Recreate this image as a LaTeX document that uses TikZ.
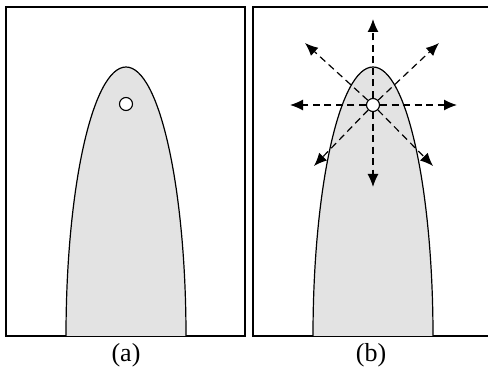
\documentclass[tikz,border=0pt]{standalone}
\usepackage{fontspec}
\setmainfont{Liberation Serif}
\usetikzlibrary{arrows.meta}

\begin{document}
\begin{tikzpicture}[
      x=1pt, y=1pt,
      panel/.style={draw, line width=1.3pt},
      body/.style={draw, line width=1.2pt, fill=black!11},
      hole/.style={circle, draw, line width=1.1pt, fill=white, minimum size=13pt, inner sep=0pt},
      caption/.style={font=\fontsize{26}{28}\selectfont},
      ray/.style={-{Latex[length=13pt, width=11pt]}, line width=1.2pt, dash pattern=on 7pt off 4.5pt}
  ]
    \useasboundingbox (0,0) rectangle (488,370);

    % panel (a)
    \draw[panel] (6,34) rectangle (245,363);
    \draw[body] (66,34) arc[start angle=180, end angle=0, x radius=60, y radius=269];
    \node[hole] (holeA) at (126,266) {};
    \node[caption] (capA) at (126,15) {(a)};

    % panel (b)
    \draw[panel] (253,34) rectangle (491,363);
    \draw[body] (313,34) arc[start angle=180, end angle=0, x radius=60, y radius=269];
    \coordinate (up) at (373,351);
    \coordinate (down) at (373,183);
    \coordinate (left) at (290,265);
    \coordinate (right) at (457,265);
    \coordinate (upleft) at (305,327);
    \coordinate (upright) at (439,327);
    \coordinate (downleft) at (314,204);
    \coordinate (downright) at (433,204);
    \node[hole] (holeB) at (373,265) {};
    \foreach \tip in {up,down,left,right,upleft,upright,downleft,downright}
      \draw[ray] (holeB) -- (\tip);
    \node[caption] (capB) at (371,15) {(b)};
  \end{tikzpicture}
\end{document}
